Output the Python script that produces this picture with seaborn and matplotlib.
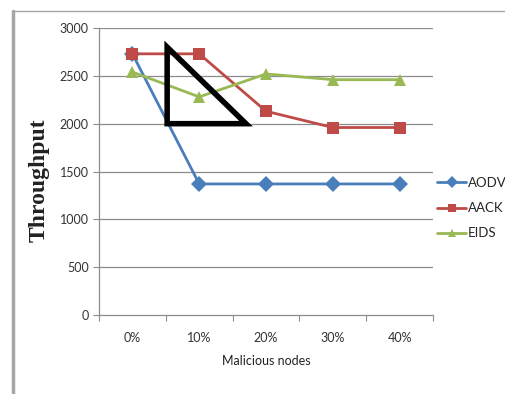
import matplotlib
matplotlib.use("Agg")
import matplotlib.pyplot as plt
from matplotlib.lines import Line2D
from matplotlib.patches import Polygon
import seaborn as sns
import pandas as pd

categories = ["0%", "10%", "20%", "30%", "40%"]
aodv = [2730, 1370, 1370, 1370, 1370]
aack = [2730, 2730, 2130, 1960, 1960]
eids = [2540, 2280, 2520, 2460, 2460]
series_names = ["AODV", "AACK", "EIDS"]
colors = ["#4A7EBB", "#BE4B48", "#98B954"]
markers = ["D", "s", "^"]
# hand-drawn triangle annotation (category index, throughput)
triangle = [(0.52, 2800), (0.52, 2000), (1.70, 2000)]

rows = []
for name, vals in zip(series_names, [aodv, aack, eids]):
    for i, v in enumerate(vals):
        rows.append({"x": i, "Throughput": v, "series": name})
df = pd.DataFrame(rows)

sns.set_style("white")
plt.rcParams["font.family"] = ["Lato", "DejaVu Sans"]

fig = plt.figure(figsize=(5.06, 3.94), dpi=100)
ax = fig.add_axes([0.1957, 0.2005, 0.66, 0.7284])

for yv in range(500, 3001, 500):
    ax.axhline(yv, color="#8c8c8c", lw=0.9, zorder=0)

sns.lineplot(data=df, x="x", y="Throughput", hue="series", style="series",
             palette=colors, markers=markers, dashes=False, markersize=8,
             markeredgewidth=0, linewidth=2, ax=ax, legend=False)

ax.add_patch(Polygon(triangle, closed=True, fill=False, edgecolor="black",
                     lw=4, joinstyle="miter", zorder=5))

ax.set_xlim(-0.5, 4.5)
ax.set_ylim(0, 3000)
ax.set_yticks(range(0, 3001, 500))
ax.set_xticks([i - 0.5 for i in range(6)], minor=False)
ax.set_xticklabels([])
ax.set_xticks(range(5), minor=True)
ax.set_xticklabels(categories, minor=True)
ax.tick_params(axis="x", which="major", length=4, color="#8c8c8c", direction="out")
ax.tick_params(axis="x", which="minor", length=0, pad=12, labelsize=9, labelcolor="#333333")
ax.tick_params(axis="y", length=4, color="#8c8c8c", direction="out", labelsize=9,
               labelcolor="#333333")
ax.yaxis.set_ticks_position("left")
ax.xaxis.set_ticks_position("bottom")

for s in ["top", "right"]:
    ax.spines[s].set_visible(False)
for s in ["left", "bottom"]:
    ax.spines[s].set_color("#8c8c8c")
    ax.spines[s].set_linewidth(0.9)

ax.set_xlabel("Malicious nodes", fontsize=9, color="#222222", labelpad=8)
ax.set_ylabel("Throughput", fontsize=17, fontweight="bold", family="Liberation Serif",
              color="#222222")
ax.yaxis.set_label_coords(-0.147, 0.47)

handles = [Line2D([], [], color=c, marker=m, lw=2, markersize=6, markeredgewidth=0)
           for c, m in zip(colors, markers)]
ax.legend(handles, series_names, loc="upper left", bbox_to_anchor=(1.005, 0.49),
          frameon=False, handlelength=2.2, handletextpad=0.1, labelspacing=1.0,
          borderaxespad=0.0, borderpad=0.2, fontsize=9.5)

fig.add_artist(Line2D([0.026, 0.026], [0.0, 0.972], color="#a6a6a6", lw=2.5))
fig.add_artist(Line2D([0.024, 1.0], [0.972, 0.972], color="#a6a6a6", lw=1))

fig.savefig("out.png", dpi=100)
